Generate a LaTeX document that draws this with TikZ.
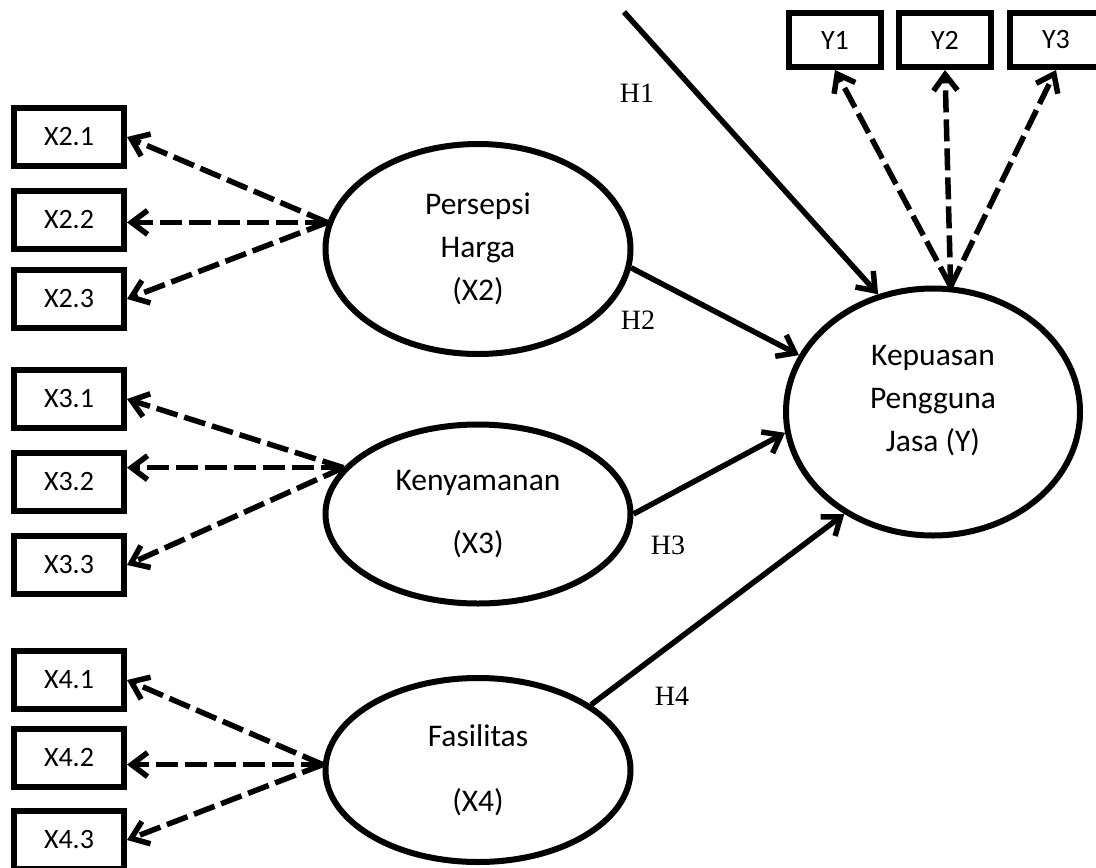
\documentclass[tikz,border=0pt]{standalone}
\usepackage{fontspec}
\setmainfont{Carlito}
\newfontfamily\hfont{Liberation Serif}
\usetikzlibrary{arrows.meta, shapes.geometric}

\begin{document}
\begin{tikzpicture}[x=1pt, y=-1pt,
    >={Straight Barb[length=16pt, width=24pt]},
    font=\fontsize{28}{43}\selectfont,
    indbox/.style={draw, line width=6pt, minimum width=110pt, minimum height=58pt, inner sep=0pt},
    latent/.style={draw, ellipse, line width=6pt, align=center, inner sep=0pt,
        font=\fontsize{31.5}{43}\selectfont},
    loading/.style={->, line width=5.5pt, dash pattern=on 22pt off 7pt},
    hypo/.style={->, line width=5.5pt},
    hlabel/.style={font=\hfont\fontsize{28}{34}\selectfont}]
\useasboundingbox (0,0) rectangle (1096,868);

% --- 潜在変数 ---
\node[latent, minimum width=305pt, minimum height=210pt] (X2) at (478,249) {Persepsi\\Harga\\(X2)};
\node[latent, minimum width=305pt, minimum height=179pt] (X3) at (478,514) {Kenyamanan\\[20pt](X3)};
\node[latent, minimum width=305pt, minimum height=184pt] (X4) at (478,770) {Fasilitas\\[22pt](X4)};
\node[latent, minimum width=294pt, minimum height=247pt, text depth=28pt] (Y) at (933,412) {Kepuasan\\Pengguna\\Jasa (Y)};

    % --- 指標の描画 ---
    \foreach \i/\y in {1/137, 2/220, 3/299} {
        \node[indbox] (x2\i) at (69,\y) {X2.\i};
    }
    \foreach \i/\y in {1/399, 2/482, 3/565} {
        \node[indbox] (x3\i) at (69,\y) {X3.\i};
    }
    \foreach \i/\y in {1/680, 2/758, 3/840} {
        \node[indbox] (x4\i) at (69,\y) {X4.\i};
    }
    \foreach \i/\x in {1/835, 2/945, 3/1056} {
        \node[indbox, minimum width=92pt, minimum height=54pt] (y\i) at (\x,40) {Y\i};
    }

    % --- 破線の矢印（指標へ） ---
    \foreach \k/\a in {2/170, 3/161, 4/178} {
        \draw[loading] (X\k.\a) -- (x\k1.east);
        \draw[loading] (X\k.\a) -- (X\k.\a -| x\k2.east);
        \draw[loading] (X\k.\a) -- (x\k3.east);
    }
    \foreach \i in {1,2,3} {
        \draw[loading] (Y.82) -- (y\i.south);
    }

    % ★ 仮説の矢印 ★
    \coordinate (h1start) at (624,12);
    \draw[hypo] (h1start) -- (Y.115);
    \draw[hypo] (X2.353) -- (Y.157);
    \draw[hypo] (X3.east) -- (Y.188);
    \draw[hypo] (X4.30) -- (Y.229);

    \node[hlabel] (h1) at (637,93) {H1};
    \node[hlabel] (h2) at (638,320) {H2};
    \node[hlabel] (h3) at (668,545) {H3};
    \node[hlabel] (h4) at (672,696) {H4};

\end{tikzpicture}
\end{document}
